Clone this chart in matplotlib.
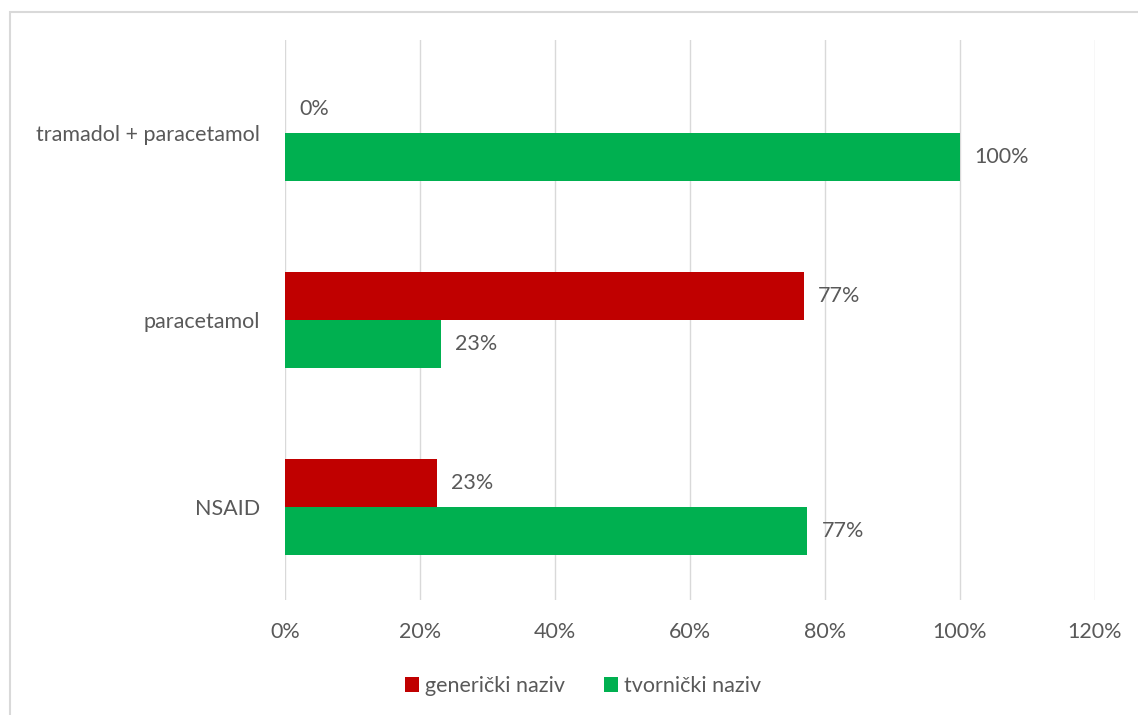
import numpy as np
import matplotlib.pyplot as plt
from matplotlib.patches import Rectangle

categories = ['NSAID', 'paracetamol', 'tramadol + paracetamol']
generic = [22.5, 76.9, 0]
brand = [77.4, 23.1, 100]
generic_labels = ['23%', '77%', '0%']
brand_labels = ['77%', '23%', '100%']
xticks = [0, 20, 40, 60, 80, 100, 120]

red = '#C00000'
green = '#00B050'
txt = '#595959'
fs = 15.5

plt.rcParams['font.family'] = ['Lato', 'DejaVu Sans']

W, H = 1138, 715
fig = plt.figure(figsize=(W / 100, H / 100), dpi=100)
ax = fig.add_axes([285 / W, 1 - 600 / H, (1095 - 285) / W, (600 - 40) / H])

# outer chart border (only top and left visible in the crop)
fig.patches.append(Rectangle((9.5 / W, -0.1), 1.2, 1 - 11.5 / H + 0.1,
                             transform=fig.transFigure, fill=False,
                             edgecolor='#D9D9D9', linewidth=1.5))

y = np.arange(len(categories))
h = 0.257
ax.barh(y + h / 2, generic, height=h, color=red, label='generički naziv')
ax.barh(y - h / 2, brand, height=h, color=green, label='tvornički naziv')

for i in range(len(categories)):
    ax.text(generic[i] + 2.1, y[i] + h / 2, generic_labels[i], va='center',
            ha='left', fontsize=fs, color=txt)
    ax.text(brand[i] + 2.1, y[i] - h / 2, brand_labels[i], va='center',
            ha='left', fontsize=fs, color=txt)

ax.set_xlim(0, 120)
ax.set_ylim(-0.5, 2.5)
ax.set_xticks(xticks)
ax.set_xticklabels([f'{t}%' for t in xticks])
ax.set_yticks(y)
ax.set_yticklabels(categories)
ax.tick_params(axis='both', length=0, labelsize=fs, labelcolor=txt)
ax.tick_params(axis='x', pad=16)
ax.tick_params(axis='y', pad=18)
ax.grid(axis='x', color='#D9D9D9', linewidth=1)
ax.set_axisbelow(True)
for s in ax.spines.values():
    s.set_visible(False)

fig.legend(loc='center', bbox_to_anchor=(583 / W, 1 - 686 / H), ncol=2,
           frameon=False, fontsize=fs, labelcolor=txt, handlelength=0.65,
           handleheight=0.65, handletextpad=0.3, columnspacing=1.8)

fig.savefig('out.png', dpi=100)
